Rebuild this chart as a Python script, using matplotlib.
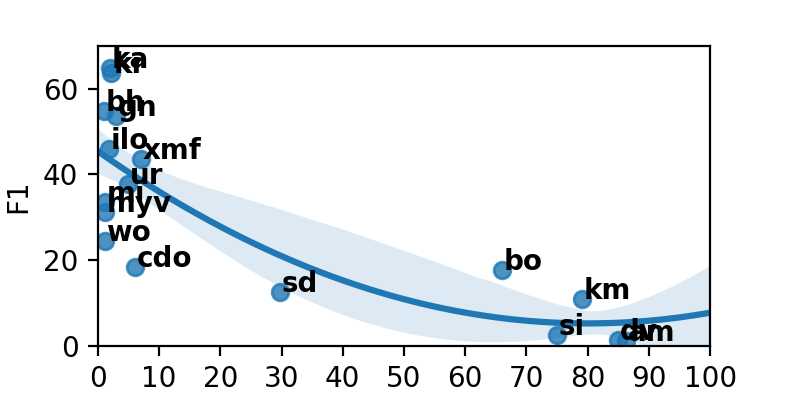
import numpy as np
import pandas as pd
import seaborn as sns
from matplotlib import pyplot as plt

# 各语言的数据点
langs = ['ka', 'kr', 'bh', 'gn', 'ilo', 'xmf', 'ur', 'mi', 'myv', 'wo',
         'cdo', 'sd', 'bo', 'km', 'si', 'dv', 'am']
x_vals = [2.0, 2.2, 1.0, 3.0, 1.8, 7.0, 4.9, 1.1, 1.1, 1.1,
          6.0, 29.7, 66.0, 79.0, 75.0, 85.0, 86.2]
f1_vals = [64.8, 63.6, 54.8, 53.7, 46.0, 43.6, 37.7, 33.5, 31.2, 24.4,
           18.5, 12.7, 17.8, 11.0, 2.6, 1.4, 1.2]

data = pd.DataFrame({'x': x_vals, 'F1': f1_vals, 'lang': langs})

fig, ax = plt.subplots(figsize=(3.945, 1.975), dpi=200)
fig.subplots_adjust(left=0.124, right=0.9, bottom=0.124, top=0.884)

ax.set_xlim(0, 100)
# 二次回归 + 置信带
sns.regplot(data=data, x='x', y='F1', order=2, truncate=False, ax=ax,
            ci=68, n_boot=10000, seed=1)

# 标注每个点
for _, row in data.iterrows():
    ax.text(row['x'] + 0.3, row['F1'], row['lang'], weight='bold')

ax.set_xlim(0, 100)
ax.set_ylim(0, 70)
ax.set_xticks(range(0, 101, 10))
ax.set_yticks([0, 20, 40, 60])
ax.set_xlabel('')
ax.set_ylabel('F1')

plt.savefig('out.png')
